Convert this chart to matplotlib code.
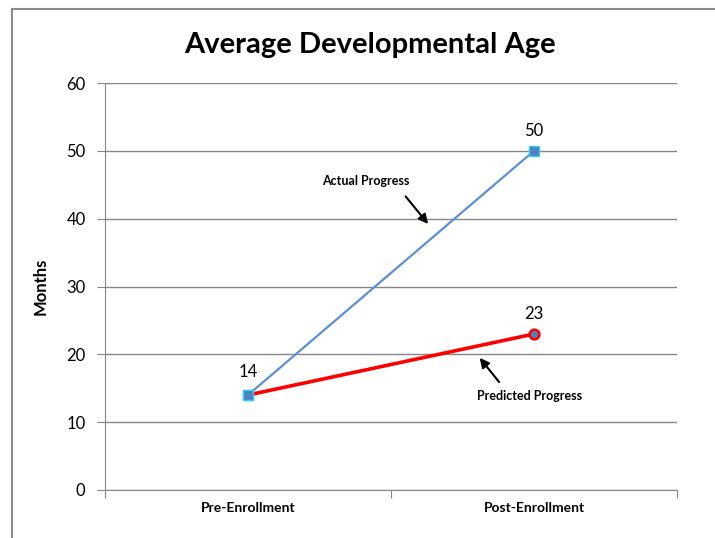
import matplotlib
matplotlib.use("Agg")
import matplotlib.pyplot as plt
from matplotlib.patches import Rectangle

plt.rcParams['font.family'] = ['Lato', 'DejaVu Sans']

categories = ["Pre-Enrollment", "Post-Enrollment"]
actual = [14, 50]
predicted = [14, 23]
yticks = [0, 10, 20, 30, 40, 50, 60]

fig = plt.figure(figsize=(7.15, 5.38), dpi=100)
# outer chart border
fig.patches.append(Rectangle((12 / 715, -0.1), 1.2, (538 - 9) / 538 + 0.1,
                             transform=fig.transFigure, fill=False,
                             edgecolor="#8c8c8c", linewidth=1.5))

ax = fig.add_axes([105 / 715, 1 - 490 / 538, 572 / 715, 407 / 538])
xpos = [0.5, 1.5]

ax.plot(xpos, actual, color="#5b8fd6", linewidth=1.6, marker="s",
        markersize=7, markerfacecolor="#4f81bd", markeredgecolor="#33ccff",
        markeredgewidth=1, zorder=3)
ax.plot(xpos, predicted, color="#ff0000", linewidth=2.6, zorder=4)
ax.plot(xpos[1], predicted[1], marker="o", markersize=7,
        markerfacecolor="#4f81bd", markeredgecolor="#ff0000",
        markeredgewidth=1.8, zorder=5)
ax.plot(xpos[0], predicted[0], marker="s", markersize=7,
        markerfacecolor="#4f81bd", markeredgecolor="#33ccff",
        markeredgewidth=1, zorder=6)

# data labels
ax.annotate(str(actual[0]), (xpos[0], actual[0]), xytext=(0, 13),
            textcoords="offset points", ha="center", fontsize=12)
ax.annotate(str(actual[1]), (xpos[1], actual[1]), xytext=(0, 11),
            textcoords="offset points", ha="center", fontsize=12)
ax.annotate(str(predicted[1]), (xpos[1], predicted[1]), xytext=(0, 11),
            textcoords="offset points", ha="center", fontsize=12)

# arrows
ax.annotate("", xy=(1.136, 38.9), xytext=(1.045, 43.6),
            arrowprops=dict(arrowstyle="-|>", color="black", lw=1.5,
                            mutation_scale=14))
ax.text(0.913, 45.6, "Actual Progress", ha="center", va="center",
        fontsize=9, fontweight="bold")
ax.annotate("", xy=(1.304, 19.8), xytext=(1.384, 15.6),
            arrowprops=dict(arrowstyle="-|>", color="black", lw=1.5,
                            mutation_scale=14))
ax.text(1.486, 13.9, "Predicted Progress", ha="center", va="center",
        fontsize=9, fontweight="bold")

ax.set_xlim(0, 2)
ax.set_ylim(0, 60)
ax.set_yticks(yticks)
ax.set_yticklabels([str(t) for t in yticks], fontsize=12)
ax.set_xticks([0, 1, 2])
ax.set_xticklabels([])
ax.set_xticks(xpos, minor=True)
ax.set_xticklabels(categories, minor=True, fontsize=10, fontweight="bold")
ax.tick_params(axis="x", which="minor", length=0, pad=9)
ax.tick_params(axis="x", which="major", length=6, color="#868686")
ax.tick_params(axis="y", length=6, color="#868686", pad=8)
ax.grid(axis="y", color="#868686", linewidth=1)
ax.set_axisbelow(True)
for s in ["top", "right"]:
    ax.spines[s].set_visible(False)
for s in ["left", "bottom"]:
    ax.spines[s].set_color("#868686")
ax.set_ylabel("Months", fontsize=12, fontweight="bold", labelpad=13)

fig.text(370 / 715, 1 - 45 / 538, "Average Developmental Age",
         ha="center", va="center", fontsize=21, fontweight="bold")

fig.savefig("out.png", dpi=100)
